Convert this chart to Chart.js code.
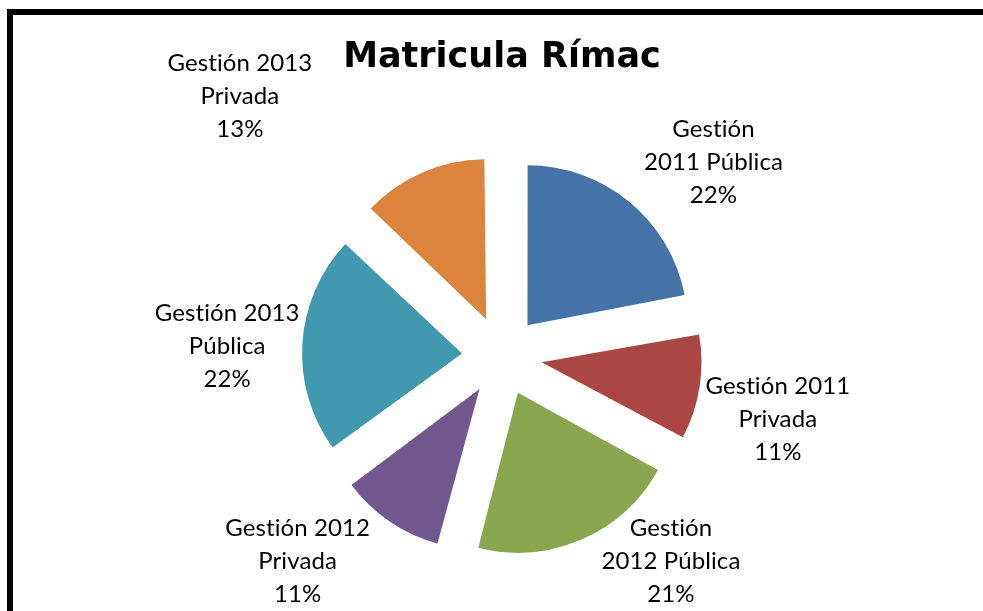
<!DOCTYPE html>
<html>
<head>
<meta charset="utf-8">
<script src="https://cdn.jsdelivr.net/npm/chart.js@4.4.1/dist/chart.umd.min.js"></script>
<style>
  html, body { margin: 0; padding: 0; background: #fff; overflow: hidden; }
  #frame {
    position: absolute; left: 7px; top: 9px;
    width: 1100px; height: 800px;
    border: 6px solid #000; box-sizing: border-box;
  }
  #wrap { position: absolute; left: 0; top: 0; width: 983px; height: 611px; }
</style>
</head>
<body>
<div id="frame"></div>
<div id="wrap"><canvas id="pie"></canvas></div>
<script>
// data (shares in %)
const categories = [
  ["Gestión", "2011 Pública"],
  ["Gestión 2011", "Privada"],
  ["Gestión", "2012 Pública"],
  ["Gestión 2012", "Privada"],
  ["Gestión 2013", "Pública"],
  ["Gestión 2013", "Privada"],
];
const values = [22, 11, 21, 11, 22, 13];
const colors = ["#4572A7", "#AA4643", "#89A54E", "#71588F", "#4198AF", "#DB843D"];

const explode = 40;     // px each slice is pulled out
const labelGap = 20;
// small hand tweaks so the labels sit where the original put them
const labelNudge = [[27, 14], [-13, 21], [54, -42], [-40, -18], [17, 7], [-146, -12]];

Chart.defaults.font.family = "Lato, 'Open Sans', sans-serif";
Chart.defaults.color = "#000";

// chart.js makes narrow exploded slices a bit longer; undo that so all slices share one radius
const radiusFix = {
  id: "radiusFix",
  afterDatasetUpdate(chart, args) {
    const meta = args.meta;
    const base = meta.controller.outerRadius;
    meta.data.forEach(arc => {
      const off = ((arc.options && arc.options.offset) || explode * 4) / 4;
      const fix = 1 - Math.sin(Math.min(Math.PI, arc.circumference));
      arc.outerRadius = base - off * fix;
    });
  }
};

const pieLabels = {
  id: "pieLabels",
  afterDatasetsDraw(chart) {
    const ctx = chart.ctx;
    const meta = chart.getDatasetMeta(0);
    const base = meta.controller.outerRadius;
    const total = values.reduce((a, b) => a + b, 0);
    const lh = 33;
    ctx.save();
    ctx.font = "24px Lato";
    if ("letterSpacing" in ctx) ctx.letterSpacing = "0.1px"; // no "ti" ligature
    ctx.fillStyle = "#000";
    ctx.textAlign = "center";
    ctx.textBaseline = "middle";
    meta.data.forEach((arc, i) => {
      const mid = (arc.startAngle + arc.endAngle) / 2;
      const dx = Math.cos(mid), dy = Math.sin(mid);
      const lines = categories[i].concat([Math.round(values[i] / total * 100) + "%"]);
      const hw = Math.max(...lines.map(l => ctx.measureText(l).width)) / 2;
      const hh = lines.length * lh / 2;
      const r = explode + base + labelGap;
      const cx = arc.x + dx * r + dx * hw + labelNudge[i][0];
      const cy = arc.y + dy * r + dy * hh + labelNudge[i][1];
      lines.forEach((l, k) => {
        ctx.fillText(l, cx, cy - hh + lh / 2 + k * lh);
      });
    });
    ctx.restore();
  }
};

new Chart(document.getElementById("pie"), {
  type: "pie",
  data: {
    labels: categories,
    datasets: [{
      data: values,
      backgroundColor: colors,
      borderWidth: 0,
      offset: explode * 4,
      radius: 160,
    }]
  },
  options: {
    responsive: true,
    maintainAspectRatio: false,
    animation: false,
    events: [],
    layout: { padding: { left: 21, right: 0, top: 0, bottom: 0 } },
    plugins: {
      legend: { display: false },
      tooltip: { enabled: false },
      title: {
        display: true,
        text: "Matricula Rímac",
        font: { family: "'DejaVu Sans', sans-serif", size: 35, weight: "bold" },
        padding: { top: 37, bottom: 22 },
      }
    }
  },
  plugins: [radiusFix, pieLabels]
});
</script>
</body>
</html>
